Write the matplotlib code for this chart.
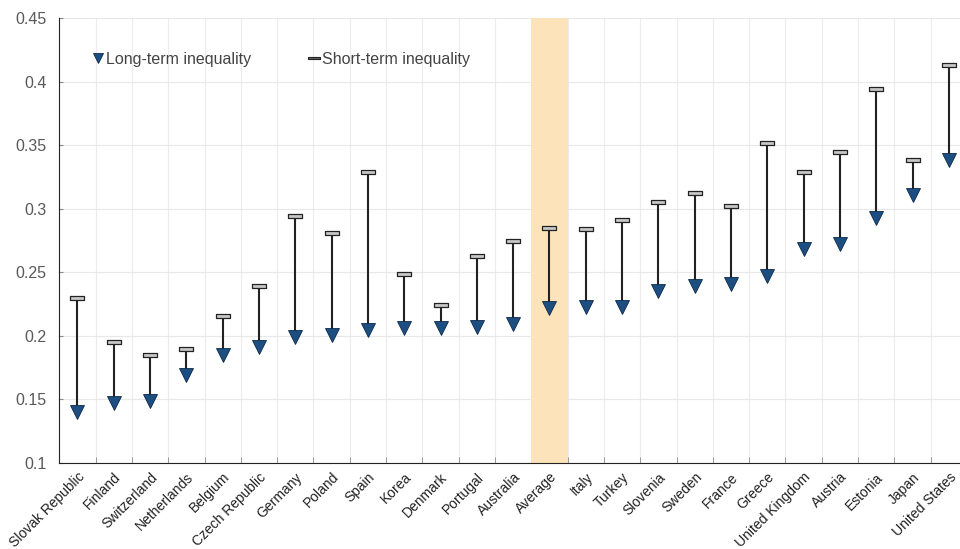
import numpy as np
import matplotlib.pyplot as plt
from matplotlib.path import Path
from matplotlib.lines import Line2D
from matplotlib.ticker import FixedLocator, FuncFormatter

# data
countries = ["Slovak Republic", "Finland", "Switzerland", "Netherlands", "Belgium",
             "Czech Republic", "Germany", "Poland", "Spain", "Korea", "Denmark",
             "Portugal", "Australia", "Average", "Italy", "Turkey", "Slovenia",
             "Sweden", "France", "Greece", "United Kingdom", "Austria", "Estonia",
             "Japan", "United States"]
long_term = [0.140, 0.147, 0.149, 0.169, 0.185, 0.191, 0.199, 0.201, 0.205, 0.206,
             0.206, 0.207, 0.209, 0.222, 0.223, 0.223, 0.235, 0.239, 0.241, 0.247,
             0.268, 0.272, 0.293, 0.311, 0.338]
short_term = [0.230, 0.195, 0.185, 0.190, 0.216, 0.239, 0.294, 0.281, 0.329, 0.249,
              0.224, 0.263, 0.275, 0.285, 0.284, 0.291, 0.305, 0.312, 0.302, 0.352,
              0.329, 0.345, 0.394, 0.338, 0.413]

navy = "#1d4e82"
band = "#fde3b9"
txt = "#595959"

plt.rcParams['font.family'] = ['Liberation Sans', 'DejaVu Sans']

fig = plt.figure(figsize=(9.6, 5.49), dpi=100)
ax = fig.add_axes([0.0618, 0.1566, 0.9455, 0.8106])

x = np.arange(len(countries))

# average highlight band (covers the grid)
avg = countries.index("Average")
ax.axvspan(avg - 0.5, avg + 0.5, color=band, zorder=1, lw=0)

# stems
ax.vlines(x, long_term, short_term, color="#222222", lw=1.5, zorder=2)

# cap marker: flat rectangle
cap = Path([(-1, -0.22), (1, -0.22), (1, 0.22), (-1, 0.22), (-1, -0.22)],
           [Path.MOVETO, Path.LINETO, Path.LINETO, Path.LINETO, Path.CLOSEPOLY])
ax.plot(x, short_term, ls="none", marker=cap, ms=10.5, mfc="#c8c8c8",
        mec="#222222", mew=0.9, zorder=3)
ax.plot(x, long_term, ls="none", marker="v", ms=10.5, mfc=navy,
        mec="#0d2a4a", mew=0.6, zorder=4)

ax.set_xlim(-0.5, len(countries) - 0.5)
ax.set_ylim(0.1, 0.45)

ax.xaxis.set_major_locator(FixedLocator(x))
ax.xaxis.set_minor_locator(FixedLocator(x[:-1] + 0.5))
ax.set_xticklabels(countries, rotation=45, ha="right", rotation_mode="anchor",
                   family=['Liberation Sans Narrow', 'Liberation Sans'],
                   fontsize=10, color="#222222")
ax.tick_params(axis="x", which="major", length=0, pad=5)
ax.tick_params(axis="x", which="minor", direction="in", length=4, color="#888888")

ax.set_yticks(np.arange(0.1, 0.451, 0.05))
ax.yaxis.set_major_formatter(FuncFormatter(lambda v, p: "%g" % round(v, 2)))
ax.tick_params(axis="y", direction="in", length=3, color="#888888",
               labelsize=11.5, labelcolor=txt, pad=9)

ax.grid(axis="y", which="major", color="#e8e8e8", lw=0.8, zorder=0)
ax.grid(axis="x", which="minor", color="#ececec", lw=0.8, zorder=0)
ax.set_axisbelow(True)

for s in ["top", "right"]:
    ax.spines[s].set_visible(False)
ax.spines["left"].set_color("#222222")
ax.spines["bottom"].set_color("#222222")

handles = [
    Line2D([], [], ls="none", marker="v", ms=7, mfc=navy, mec="#0d2a4a", mew=0.6),
    Line2D([], [], ls="none", marker=cap, ms=8, mfc="#666666", mec="#222222", mew=0.8),
]
ax.legend(handles, ["Long-term inequality", "Short-term inequality"], ncol=2,
          loc="upper left", bbox_to_anchor=(0.022, 0.957), frameon=False,
          handlelength=0.6, handletextpad=0.2, columnspacing=3.6,
          labelcolor="#444444", fontsize=11.5)

fig.savefig("out.png", dpi=100)
